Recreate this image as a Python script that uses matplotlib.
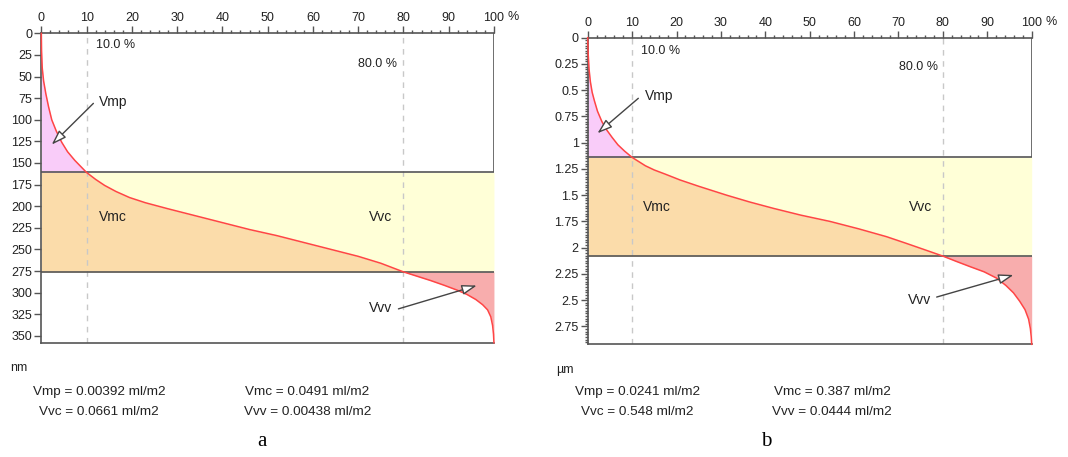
import numpy as np
import matplotlib.pyplot as plt
from matplotlib.ticker import MultipleLocator, FixedLocator

plt.rcParams['font.family'] = ['Liberation Sans', 'DejaVu Sans']

# 曲線データ (材料比率 %, 深さ)
pct_a = [0, 0.05, 0.2, 0.5, 1.0, 1.6, 2.3, 3.3, 4.5, 5.8, 7.4, 8.7, 10.0,
         12.0, 14.0, 16.5, 19.5, 23.0, 28.0, 34.0, 40.0, 46.0, 52.0, 58.0,
         64.0, 70.0, 75.0, 80.0, 83.0, 86.0, 89.0, 91.8, 94.0, 96.0, 97.5,
         98.6, 99.3, 99.7, 99.9, 100.0]
depth_a = [0, 20, 40, 55, 70, 85, 100, 113, 126, 137, 147, 154, 161,
           169, 176, 183, 190, 196, 203, 211, 219, 227, 234, 242,
           250, 258, 266, 276, 281, 286, 291.5, 297, 302, 308, 314,
           320, 328, 338, 348, 358]
upper_a, lower_a, ymax_a = 161, 276, 358
yticks_a = [0, 25, 50, 75, 100, 125, 150, 175, 200, 225, 250, 275, 300, 325, 350]
ylabels_a = [str(v) for v in yticks_a]
stats_a = ['Vmp = 0.00392 ml/m2', 'Vmc = 0.0491 ml/m2',
           'Vvc = 0.0661 ml/m2', 'Vvv = 0.00438 ml/m2']

pct_b = [0, 0.1, 0.3, 0.6, 1.0, 1.5, 2.2, 3.2, 4.3, 5.5, 6.8, 8.3, 10.0,
         11.5, 13.0, 15.0, 17.5, 20.8, 25.0, 31.3, 36.5, 41.8, 48.0, 54.6,
         61.0, 67.3, 71.5, 75.6, 80.0, 83.0, 86.1, 89.3, 92.1, 94.2, 95.9,
         97.3, 98.5, 99.3, 99.7, 99.9, 100.0]
depth_b = [0, 0.15, 0.3, 0.42, 0.52, 0.6, 0.7, 0.8, 0.88, 0.95, 1.02, 1.08, 1.14,
           1.18, 1.22, 1.26, 1.30, 1.355, 1.415, 1.5, 1.565, 1.625, 1.69, 1.75,
           1.82, 1.895, 1.955, 2.015, 2.08, 2.13, 2.18, 2.23, 2.29, 2.36, 2.43,
           2.51, 2.59, 2.68, 2.77, 2.85, 2.92]
upper_b, lower_b, ymax_b = 1.14, 2.08, 2.92
yticks_b = [0, 0.25, 0.5, 0.75, 1, 1.25, 1.5, 1.75, 2, 2.25, 2.5, 2.75]
ylabels_b = ['%g' % v for v in yticks_b]
stats_b = ['Vmp = 0.0241 ml/m2', 'Vmc = 0.387 ml/m2',
           'Vvc = 0.548 ml/m2', 'Vvv = 0.0444 ml/m2']

xticks = [0, 10, 20, 30, 40, 50, 60, 70, 80, 90, 100]
xlabels = [str(v) for v in xticks]

C_MP = '#f9ccf9'
C_MC = '#fbdcaa'
C_VC = '#ffffd7'
C_VV = '#f8adad'
C_LINE = '#ff4545'
C_FRAME = '#555555'
C_TEXT = '#222222'


def draw(ax, pct, depth, upper, lower, ymax, yticks, ylabels, minor,
         txt, arrows):
    pct = np.array(pct)
    depth = np.array(depth)
    ax.set_xlim(0, 100)
    ax.set_ylim(ymax, 0)

    ax.fill_betweenx(depth, 0, pct, where=depth <= upper, color=C_MP, lw=0)
    mid = (depth >= upper) & (depth <= lower)
    ax.fill_betweenx(depth, 0, pct, where=mid, color=C_MC, lw=0)
    ax.fill_betweenx(depth, pct, 100, where=mid, color=C_VC, lw=0)
    ax.fill_betweenx(depth, pct, 100, where=depth >= lower, color=C_VV, lw=0)

    for x in (10, 80):
        ax.axvline(x, color='#c8c8c8', lw=1.0, ls=(0, (4, 4)), zorder=2)
    ax.axhline(upper, color=C_FRAME, lw=1.2, zorder=3)
    ax.axhline(lower, color=C_FRAME, lw=1.2, zorder=3)
    ax.vlines(100, 0, upper, color=C_FRAME, lw=1.2, zorder=3)

    ax.plot(pct, depth, color=C_LINE, lw=1.1, zorder=4, clip_on=False)

    for s in ('left', 'top', 'bottom'):
        ax.spines[s].set_color(C_FRAME)
        ax.spines[s].set_linewidth(1.2)
    ax.spines['right'].set_visible(False)

    ax.xaxis.tick_top()
    ax.xaxis.set_major_locator(FixedLocator(xticks))
    ax.set_xticklabels(xlabels)
    ax.xaxis.set_minor_locator(MultipleLocator(2))
    ax.set_yticks(yticks)
    ax.set_yticklabels(ylabels)
    if minor:
        ax.yaxis.set_minor_locator(MultipleLocator(minor))
    ax.tick_params(which='major', length=5, width=1, color=C_FRAME,
                   labelsize=9, labelcolor=C_TEXT, pad=1.5)
    ax.tick_params(which='minor', length=2.5, width=1, color=C_FRAME)
    ax.tick_params(axis='y', which='minor', left=minor is not None)
    ax.annotate('%', xy=(1, 1), xycoords='axes fraction', xytext=(10, 11.5),
                textcoords='offset points', fontsize=9, color=C_TEXT,
                ha='left', va='center')

    for s, x, y, ha, fs in txt:
        ax.text(x, y, s, fontsize=fs, color=C_TEXT, ha=ha, va='center')
    for xt, yt, xh, yh in arrows:
        ax.annotate('', xy=(xh, yh), xytext=(xt, yt),
                    arrowprops=dict(arrowstyle='-|>,head_length=0.9,head_width=0.3',
                                    fc='white', ec='#444444', lw=1.0,
                                    shrinkA=0, shrinkB=0), zorder=5)


fig = plt.figure(figsize=(10.68, 4.57), dpi=100)
ax_a = fig.add_axes([0.0387, 0.250, 0.4238, 0.677])
ax_b = fig.add_axes([0.5503, 0.2466, 0.4157, 0.6709])

draw(ax_a, pct_a, depth_a, upper_a, lower_a, ymax_a, yticks_a, ylabels_a, None,
     [('10.0 %', 12.1, 14, 'left', 9), ('80.0 %', 78.5, 36, 'right', 9),
      ('Vmp', 12.8, 79, 'left', 10), ('Vmc', 12.8, 212, 'left', 10),
      ('Vvc', 77.5, 212, 'right', 10), ('Vvv', 77.5, 318, 'right', 10)],
     [(11.5, 81, 2.3, 128.7), (78.9, 318.8, 96.2, 291.8)])

draw(ax_b, pct_b, depth_b, upper_b, lower_b, ymax_b, yticks_b, ylabels_b, 0.025,
     [('10.0 %', 12.0, 0.13, 'left', 9), ('80.0 %', 79.0, 0.28, 'right', 9),
      ('Vmp', 12.9, 0.555, 'left', 10), ('Vmc', 12.5, 1.61, 'left', 10),
      ('Vvc', 77.5, 1.61, 'right', 10), ('Vvv', 77.3, 2.5, 'right', 10)],
     [(11.4, 0.577, 2.2, 0.91), (78.6, 2.47, 95.9, 2.26)])

fig.text(0.0094, 0.195, 'nm', fontsize=9, color=C_TEXT, va='center')
fig.text(0.5206, 0.190, 'µm', fontsize=9, color=C_TEXT, va='center')

# 統計値テキスト (左列中心, 右列中心)
for (cl, cr), stats in (((0.0927, 0.288), stats_a), ((0.597, 0.779), stats_b)):
    for i, s in enumerate(stats):
        cx = cl if i % 2 == 0 else cr
        cy = 0.142 if i < 2 else 0.099
        fig.text(cx, cy, s, fontsize=9.7, color=C_TEXT, ha='center', va='center')

fig.text(0.2453, 0.035, 'a', fontsize=15, family='Liberation Serif', ha='center', va='center')
fig.text(0.717, 0.035, 'b', fontsize=15, family='Liberation Serif', ha='center', va='center')

fig.savefig('out.png', dpi=100)
